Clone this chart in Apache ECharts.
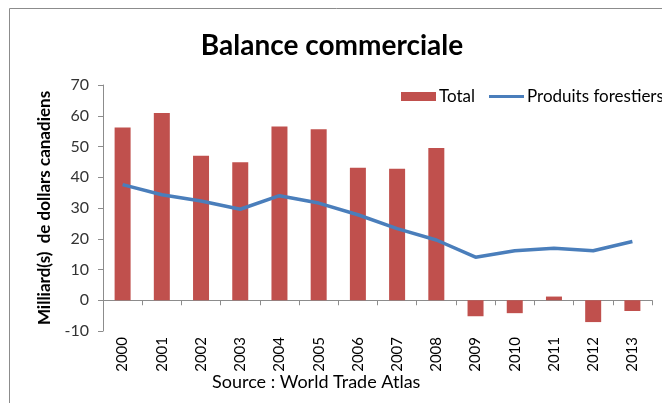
<!DOCTYPE html>
<html><head><meta charset="utf-8">
<script src="https://cdn.jsdelivr.net/npm/echarts@6/dist/echarts.min.js"></script>
<style>html,body{margin:0;padding:0;background:#fff}#c{width:662px;height:403px}</style>
</head><body><div id="c"></div>
<script>
const years = ['2000','2001','2002','2003','2004','2005','2006','2007','2008','2009','2010','2011','2012','2013'];
const totalValues = [56.2, 60.9, 47.0, 44.9, 56.5, 55.6, 43.1, 42.8, 49.5, -5.2, -4.2, 1.2, -7.1, -3.5];
const forestValues = [37.6, 34.3, 32.3, 29.6, 34.0, 31.6, 27.8, 23.3, 19.6, 14.0, 16.1, 16.9, 16.1, 19.1];
const yTicks = {min: -10, max: 70, interval: 10};
const FONT = 'Lato, "Open Sans", sans-serif';

const chart = echarts.init(document.getElementById('c'));
chart.setOption({
  animation: false,
  backgroundColor: '#fff',
  title: {
    text: 'Balance commerciale', left: 327, top: 27, textAlign: 'center',
    textStyle: {fontFamily: FONT, fontSize: 28, fontWeight: 'bold', color: '#000'}
  },
  graphic: [
    {type: 'rect', shape: {x: 9.5, y: 8.5, width: 700, height: 450}, style: {fill: 'none', stroke: '#8c8c8c', lineWidth: 1}, z: -1},
    {type: 'text', left: 212, top: 373, style: {text: 'Source : World Trade Atlas', font: '18px ' + FONT, fill: '#000'}}
  ],
  legend: {
    left: 396, top: 83, width: 500, itemWidth: 35, itemHeight: 9, itemGap: 14,
    textStyle: {fontFamily: FONT, fontSize: 17, color: '#000', padding: [0,0,0,-2]},
    data: [
      {name: 'Total', icon: 'rect'},
      {name: 'Produits forestiers', icon: 'path://M0,3 L35,3 L35,6 L0,6 Z'}
    ]
  },
  grid: {left: 103, right: 10, top: 85, bottom: 72, containLabel: false},
  xAxis: {
    type: 'category', data: years,
    axisLine: {lineStyle: {color: '#8c8c8c'}},
    axisTick: {show: true, length: 5, lineStyle: {color: '#8c8c8c'}},
    axisLabel: {rotate: 90, interval: 0, fontFamily: FONT, fontSize: 15, color: '#000', margin: 6}
  },
  yAxis: {
    type: 'value', min: yTicks.min, max: yTicks.max, interval: yTicks.interval,
    name: 'Milliard(s)  de dollars canadiens', nameLocation: 'middle', nameGap: 50, nameRotate: 90,
    nameTextStyle: {fontFamily: FONT, fontSize: 17, fontWeight: 'bold', color: '#000'},
    axisLine: {show: true, lineStyle: {color: '#8c8c8c'}},
    axisTick: {show: true, length: 5, lineStyle: {color: '#8c8c8c'}},
    splitLine: {show: false},
    axisLabel: {fontFamily: FONT, fontSize: 16, color: '#333', margin: 14}
  },
  series: [
    {name: 'Total', type: 'bar', data: totalValues, barWidth: 16, itemStyle: {color: '#c0504d'}},
    {name: 'Produits forestiers', type: 'line', data: forestValues, symbol: 'none', smooth: false,
     lineStyle: {color: '#4a7ebb', width: 3.5}, itemStyle: {color: '#4a7ebb'}}
  ]
});
</script></body></html>
